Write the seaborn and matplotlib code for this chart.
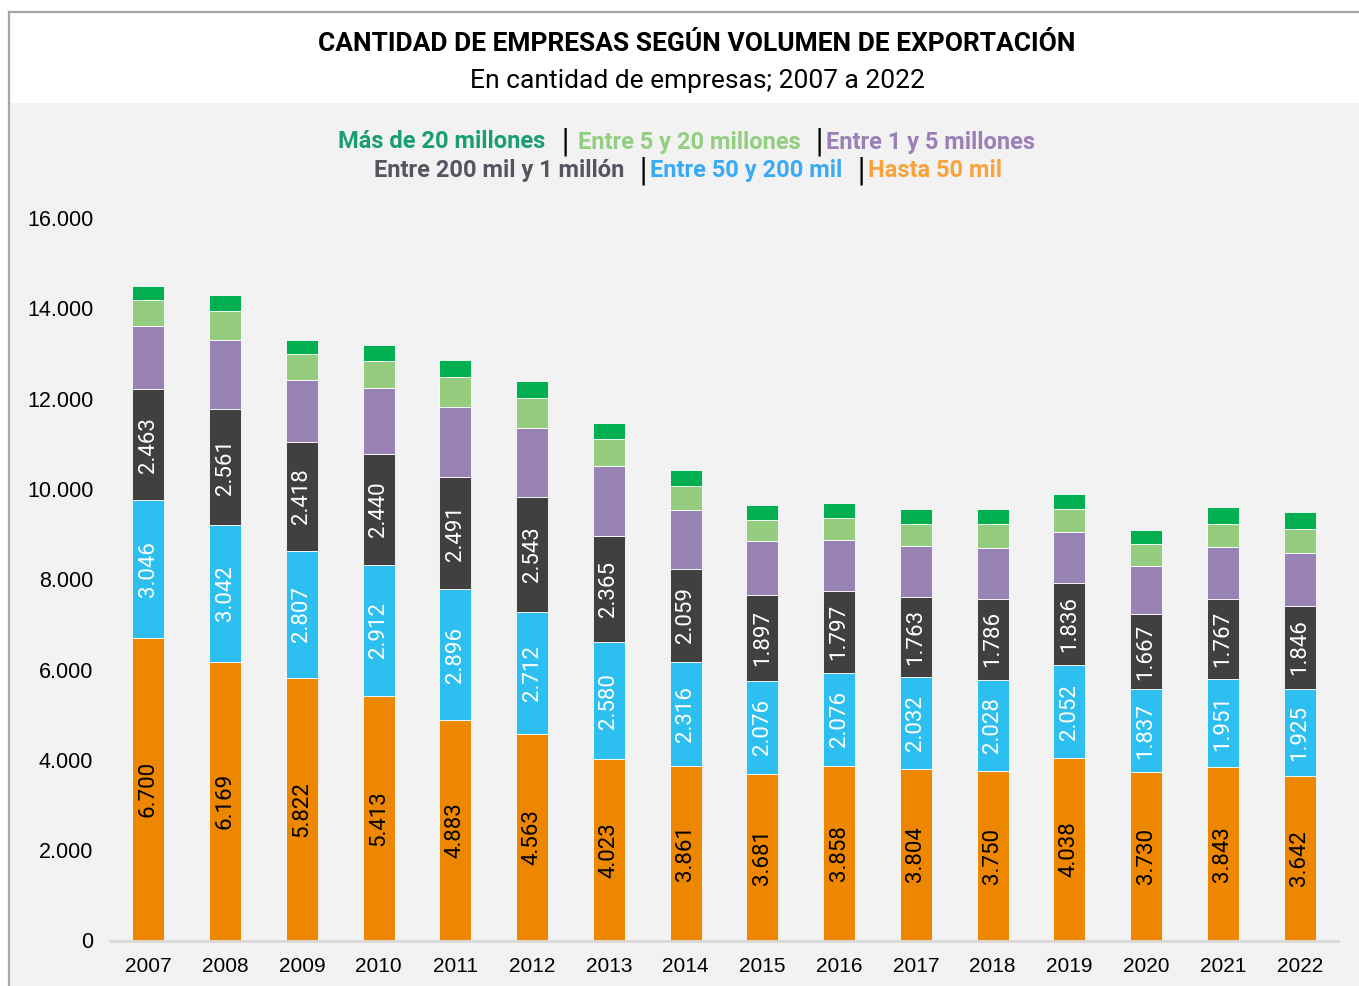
import seaborn as sns
import matplotlib.pyplot as plt
import matplotlib.patches as mpatches
from matplotlib.ticker import FuncFormatter

# datos
years = ['2007', '2008', '2009', '2010', '2011', '2012', '2013', '2014',
         '2015', '2016', '2017', '2018', '2019', '2020', '2021', '2022']
hasta_50 = [6700, 6169, 5822, 5413, 4883, 4563, 4023, 3861, 3681, 3858, 3804, 3750, 4038, 3730, 3843, 3642]
e50_200 = [3046, 3042, 2807, 2912, 2896, 2712, 2580, 2316, 2076, 2076, 2032, 2028, 2052, 1837, 1951, 1925]
e200_1m = [2463, 2561, 2418, 2440, 2491, 2543, 2365, 2059, 1897, 1797, 1763, 1786, 1836, 1667, 1767, 1846]
e1_5m = [1408, 1528, 1374, 1463, 1546, 1539, 1531, 1304, 1192, 1144, 1143, 1134, 1126, 1058, 1152, 1174]
e5_20m = [561, 634, 560, 607, 664, 649, 599, 525, 472, 488, 488, 516, 495, 488, 510, 525]
mas_20m = [310, 370, 326, 355, 384, 386, 370, 355, 326, 317, 325, 341, 332, 310, 368, 377]

series = [
    ('Hasta 50 mil', hasta_50, '#ee8700'),
    ('Entre 50 y 200 mil', e50_200, '#2dbff0'),
    ('Entre 200 mil y 1 millón', e200_1m, '#404040'),
    ('Entre 1 y 5 millones', e1_5m, '#9983b4'),
    ('Entre 5 y 20 millones', e5_20m, '#95cd80'),
    ('Más de 20 millones', mas_20m, '#00b050'),
]
label_colors = {'Hasta 50 mil': 'black', 'Entre 50 y 200 mil': 'white',
                'Entre 200 mil y 1 millón': 'white'}

W, H = 1359, 986
fig = plt.figure(figsize=(W / 100, H / 100), dpi=100)
fig.patch.set_facecolor('white')

# fondo gris y borde
fig.patches.append(mpatches.Rectangle((9 / W, 0), (W - 9) / W, (H - 103) / H,
                                      transform=fig.transFigure, facecolor='#f2f2f2',
                                      edgecolor='none', zorder=-5))
fig.add_artist(plt.Line2D([9 / W, 9 / W], [0, 1 - 12 / H], transform=fig.transFigure,
                          color='#a6a6a6', lw=1.6))
fig.add_artist(plt.Line2D([9 / W, 1], [1 - 12 / H, 1 - 12 / H], transform=fig.transFigure,
                          color='#a6a6a6', lw=1.6))

ax = fig.add_axes([110 / W, 1 - 940.5 / H, (1338 - 110) / W, (940.5 - 218) / H])
ax.set_facecolor('none')

bottom = [0] * len(years)
for name, vals, col in series:
    sns.barplot(x=years, y=vals, bottom=bottom, color=col, saturation=1, width=0.42,
                edgecolor='white', linewidth=0.6, ax=ax, errorbar=None)
    if name in label_colors:
        for i, v in enumerate(vals):
            ax.text(i, bottom[i] + v / 2, f'{v:,}'.replace(',', '.'), rotation=90,
                    ha='center', va='center', color=label_colors[name],
                    fontsize=16, family='Roboto')
    bottom = [b + v for b, v in zip(bottom, vals)]

ax.set_ylim(0, 16000)
ax.set_xlim(-0.5, len(years) - 0.5)
ax.set_yticks(range(0, 16001, 2000))
ax.yaxis.set_major_formatter(FuncFormatter(lambda v, p: f'{int(v):,}'.replace(',', '.')))
for s in ['top', 'right', 'left']:
    ax.spines[s].set_visible(False)
ax.spines['bottom'].set_color('#d9d9d9')
ax.spines['bottom'].set_linewidth(2)
ax.tick_params(axis='y', length=0, pad=12, labelsize=15.5)
ax.tick_params(axis='x', length=0, pad=12, labelsize=15)
for t in ax.get_xticklabels() + ax.get_yticklabels():
    t.set_family('Liberation Sans')
ax.set_xlabel('')
ax.set_ylabel('')

# títulos
fig.text(697 / W, 1 - 44 / H, 'CANTIDAD DE EMPRESAS SEGÚN VOLUMEN DE EXPORTACIÓN',
         ha='center', va='center', fontsize=19, fontweight='bold', family='Roboto')
fig.text(697 / W, 1 - 81 / H, 'En cantidad de empresas; 2007 a 2022',
         ha='center', va='center', fontsize=19, family='Roboto')

# leyenda de texto
leyenda = [
    (338, 142, 'Más de 20 millones', '#1a9e6e'),
    (561, 142, '|', 'black'),
    (578, 142, 'Entre 5 y 20 millones', '#93cd7f'),
    (815, 142, '|', 'black'),
    (826, 142, 'Entre 1 y 5 millones', '#9b7fb6'),
    (374, 171, 'Entre 200 mil y 1 millón', '#555560'),
    (639, 171, '|', 'black'),
    (650, 171, 'Entre 50 y 200 mil', '#3aaaf6'),
    (856, 171, '|', 'black'),
    (868, 171, 'Hasta 50 mil', '#f9a33a'),
]
for x, y, txt, col in leyenda:
    if txt == '|':
        fig.text(x / W, 1 - y / H, txt, ha='left', va='center', fontsize=20,
                 color=col, family='DejaVu Sans')
    else:
        fig.text(x / W, 1 - y / H, txt, ha='left', va='center', fontsize=17,
                 fontweight='bold', color=col, family='Roboto')

fig.savefig('out.png', dpi=100)
